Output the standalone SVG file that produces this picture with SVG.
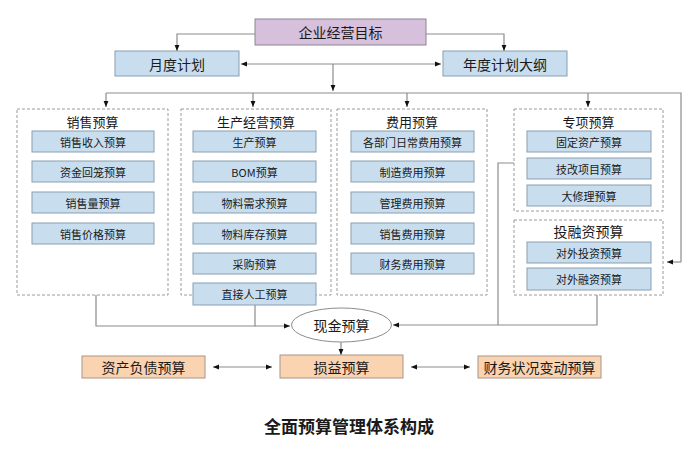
<svg xmlns="http://www.w3.org/2000/svg" width="700" height="453" viewBox="0 0 700 453">
<style>
text{font-family:"Noto Sans CJK SC","Noto Sans",sans-serif;fill:#1a1a1a;text-anchor:middle;dominant-baseline:central}
.blue{fill:#c8deef;stroke:#8a9eb0;stroke-width:1}
.purple{fill:#d6c0db;stroke:#8f8494;stroke-width:1}
.orange{fill:#fad3b0;stroke:#a8958a;stroke-width:1}
.dash{fill:#fff;stroke:#9a9a9a;stroke-width:1;stroke-dasharray:3 2}
.ln{fill:none;stroke:#8c8c8c;stroke-width:1.2}
.arr{marker-end:url(#a)}
.dbl{marker-start:url(#a);marker-end:url(#a)}
.t14{font-size:14px}
.t13{font-size:13px}
.t11{font-size:11px}
</style>
<defs>
<marker id="a" viewBox="0 0 10 10" refX="10" refY="5" markerWidth="6" markerHeight="6" markerUnits="userSpaceOnUse" orient="auto-start-reverse">
<path d="M0,1 L10,5 L0,9 z" fill="#111"/>
</marker>
</defs>
<rect width="700" height="453" fill="#fff"/>

<g id="connectors">
<path class="ln arr" d="M255,34 H177 V51"/>
<path class="ln arr" d="M426,34 H504 V51"/>
<path class="ln dbl" d="M241,64 H441"/>
<path class="ln arr" d="M333,64 V91"/>
<path class="ln" d="M106,93 H681 V262"/>
<path class="ln arr" d="M681,262 H667"/>
<path class="ln arr" d="M106,93 V107"/>
<path class="ln arr" d="M253,93 V107"/>
<path class="ln arr" d="M407,93 V107"/>
<path class="ln arr" d="M588,93 V107"/>
<path class="ln" d="M96,295 V326 H255 V305"/>
<path class="ln arr" d="M255,326 H290"/>
<path class="ln" d="M514,163 H498 V325"/>
<path class="ln" d="M597,295 V325 H498"/>
<path class="ln arr" d="M498,325 H393"/>
<path class="ln arr" d="M341,342 V355"/>
<path class="ln dbl" d="M213,367 H272"/>
<path class="ln dbl" d="M411,367 H470"/>
</g>

<g id="goal"><rect class="purple" x="255" y="19" width="171" height="26"/><text class="t14" x="340.5" y="32">企业经营目标</text></g>
<g id="monthly"><rect class="blue" x="115" y="51" width="124" height="25"/><text class="t14" x="177" y="63.5">月度计划</text></g>
<g id="annual"><rect class="blue" x="443" y="51" width="124" height="25"/><text class="t14" x="505" y="63.5">年度计划大纲</text></g>

<g id="sales">
<rect class="dash" x="17" y="109" width="151" height="186"/>
<text class="t13" x="92.5" y="121">销售预算</text>
<rect class="blue" x="32" y="131" width="122" height="21"/><text class="t11" x="93" y="141.5">销售收入预算</text>
<rect class="blue" x="32" y="161" width="122" height="21"/><text class="t11" x="93" y="171.5">资金回笼预算</text>
<rect class="blue" x="32" y="192" width="122" height="21"/><text class="t11" x="93" y="202.5">销售量预算</text>
<rect class="blue" x="32" y="223" width="122" height="21"/><text class="t11" x="93" y="233.5">销售价格预算</text>
</g>

<g id="production">
<rect class="dash" x="181" y="109" width="150" height="186"/>
<text class="t13" x="256" y="121">生产经营预算</text>
<rect class="blue" x="193" y="131" width="123" height="21"/><text class="t11" x="254.5" y="141.5">生产预算</text>
<rect class="blue" x="193" y="161" width="123" height="21"/><text class="t11" x="254.5" y="171.5">BOM预算</text>
<rect class="blue" x="193" y="192" width="123" height="21"/><text class="t11" x="254.5" y="202.5">物料需求预算</text>
<rect class="blue" x="193" y="223" width="123" height="21"/><text class="t11" x="254.5" y="233.5">物料库存预算</text>
<rect class="blue" x="193" y="253" width="123" height="21"/><text class="t11" x="254.5" y="263.5">采购预算</text>
<rect class="blue" x="193" y="283" width="123" height="22"/><text class="t11" x="254.5" y="294">直接人工预算</text>
</g>

<g id="expense">
<rect class="dash" x="337" y="109" width="150" height="186"/>
<text class="t13" x="412" y="121">费用预算</text>
<rect class="blue" x="351" y="131" width="123" height="21"/><text class="t11" x="412.5" y="141.5">各部门日常费用预算</text>
<rect class="blue" x="351" y="161" width="123" height="21"/><text class="t11" x="412.5" y="171.5">制造费用预算</text>
<rect class="blue" x="351" y="192" width="123" height="21"/><text class="t11" x="412.5" y="202.5">管理费用预算</text>
<rect class="blue" x="351" y="223" width="123" height="21"/><text class="t11" x="412.5" y="233.5">销售费用预算</text>
<rect class="blue" x="351" y="253" width="123" height="21"/><text class="t11" x="412.5" y="263.5">财务费用预算</text>
</g>

<g id="special">
<rect class="dash" x="514" y="109" width="149" height="102"/>
<text class="t13" x="588.5" y="121">专项预算</text>
<rect class="blue" x="527" y="131" width="124" height="21"/><text class="t11" x="589" y="141.5">固定资产预算</text>
<rect class="blue" x="527" y="158" width="124" height="21"/><text class="t11" x="589" y="168.5">技改项目预算</text>
<rect class="blue" x="527" y="185" width="124" height="21"/><text class="t11" x="589" y="195.5">大修理预算</text>
</g>

<g id="financing">
<rect class="dash" x="514" y="220" width="149" height="75"/>
<text class="t14" x="588.5" y="231">投融资预算</text>
<rect class="blue" x="527" y="242" width="124" height="21"/><text class="t11" x="589" y="252.5">对外投资预算</text>
<rect class="blue" x="527" y="268" width="124" height="22"/><text class="t11" x="589" y="279">对外融资预算</text>
</g>

<g id="cash"><ellipse cx="341.5" cy="325" rx="50" ry="17" fill="#fff" stroke="#8c8c8c" stroke-width="1"/><text class="t14" x="341.5" y="325">现金预算</text></g>
<g id="balance"><rect class="orange" x="82" y="356" width="123" height="22"/><text class="t14" x="143.5" y="367">资产负债预算</text></g>
<g id="profit"><rect class="orange" x="280" y="355" width="123" height="23"/><text class="t14" x="341.5" y="366.5">损益预算</text></g>
<g id="change"><rect class="orange" x="478" y="356" width="123" height="22"/><text class="t14" x="539.5" y="367">财务状况变动预算</text></g>

<text x="349" y="425" style="font-size:17px;font-weight:bold">全面预算管理体系构成</text>
</svg>
